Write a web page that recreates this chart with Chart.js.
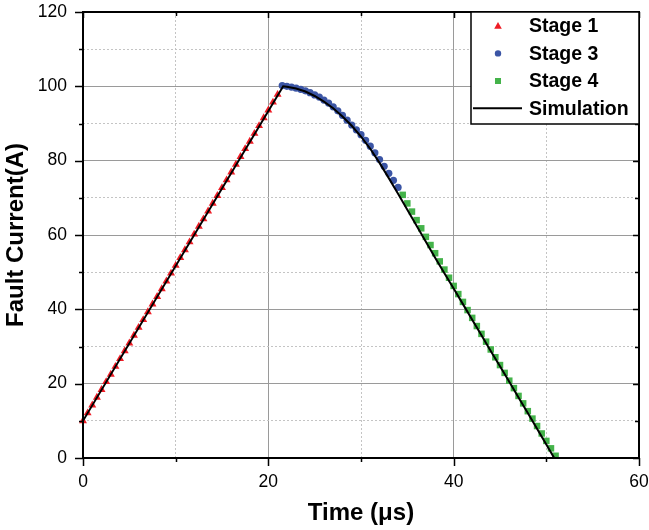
<!DOCTYPE html>
<html>
<head>
<meta charset="utf-8">
<script src="https://cdn.jsdelivr.net/npm/chart.js@4.4.0/dist/chart.umd.min.js"></script>
<style>
  html, body { margin: 0; padding: 0; background: #fff; }
  #wrap { width: 649px; height: 530px; }
</style>
</head>
<body>
<div id="wrap"><canvas id="faultChart" width="649" height="530"></canvas></div>
<script>
// values (time in us, current in A)
const stage1Time = [0, 0.5, 1, 1.5, 2, 2.5, 3, 3.5, 4, 4.5, 5, 5.5, 6, 6.5, 7, 7.5, 8, 8.5, 9, 9.5,
  10, 10.5, 11, 11.5, 12, 12.5, 13, 13.5, 14, 14.5, 15, 15.5, 16, 16.5, 17, 17.5, 18, 18.5, 19, 19.5,
  20, 20.5, 21];
const stage1Current = [10.0, 12.1, 14.2, 16.3, 18.4, 20.5, 22.5, 24.6, 26.7, 28.8, 30.9, 33.0, 35.1, 37.2,
  39.3, 41.4, 43.4, 45.5, 47.6, 49.7, 51.8, 53.9, 56.0, 58.1, 60.2, 62.3, 64.3, 66.4, 68.5, 70.6, 72.7,
  74.8, 76.9, 79.0, 81.1, 83.2, 85.2, 87.3, 89.4, 91.5, 93.6, 95.7, 97.8];

const stage3Time = [21.5, 22, 22.5, 23, 23.5, 24, 24.5, 25, 25.5, 26, 26.5, 27, 27.5, 28, 28.5, 29,
  29.5, 30, 30.5, 31, 31.5, 32, 32.5, 33, 33.5, 34];
const stage3Current = [100.2, 100.0, 99.8, 99.5, 99.2, 98.8, 98.3, 97.7, 97.1, 96.3, 95.5, 94.5, 93.4,
  92.2, 90.9, 89.6, 88.3, 87.0, 85.5, 83.9, 82.1, 80.3, 78.5, 76.6, 74.7, 72.8];

const stage4Time = [34.5, 35, 35.5, 36, 36.5, 37, 37.5, 38, 38.5, 39, 39.5, 40, 40.5, 41, 41.5, 42,
  42.5, 43, 43.5, 44, 44.5, 45, 45.5, 46, 46.5, 47, 47.5, 48, 48.5, 49, 49.5, 50, 50.5, 51];
const stage4Current = [70.8, 68.5, 66.3, 64.0, 61.8, 59.5, 57.3, 55.1, 52.9, 50.7, 48.5, 46.3, 44.1,
  42.0, 39.8, 37.7, 35.5, 33.4, 31.3, 29.2, 27.1, 25.0, 22.9, 20.8, 18.8, 16.7, 14.7, 12.6, 10.6, 8.6,
  6.6, 4.6, 2.6, 0.6];

const simTime = [0, 21.6, 22, 23, 24, 25, 26, 27, 28, 29, 30, 31, 32, 33, 34, 35, 36, 37, 38, 39, 40,
  41, 42, 43, 44, 45, 46, 47, 48, 49, 50, 50.85, 60];
const simCurrent = [10, 100, 99.9, 99.4, 98.6, 97.4, 95.9, 94.1, 91.9, 89.4, 86.5, 83.2, 79.4, 75.3,
  71.1, 66.8, 62.5, 58.2, 53.9, 49.7, 45.6, 41.4, 37.2, 33.0, 28.8, 24.7, 20.5, 16.3, 12.1, 7.9, 3.6, 0, 0];

const xTicks = [0, 20, 40, 60];
const yTicks = [0, 20, 40, 60, 80, 100, 120];

const FONT = '"Liberation Sans", Arial, Helvetica, sans-serif';

function pts(xs, ys) {
  return xs.map((x, i) => ({ x: x, y: ys[i] }));
}

const isMajorX = v => xTicks.includes(v);
const isMajorY = v => yTicks.includes(v);

// frame, tick marks and the boxed legend inside the plot
const frameLegend = {
  id: 'frameLegend',
  afterDraw(chart) {
    const { ctx, chartArea: a, scales } = chart;
    const x = scales.x, y = scales.y;
    ctx.save();
    ctx.strokeStyle = '#000';
    ctx.lineWidth = 1.5;
    ctx.beginPath();
    x.ticks.forEach(t => {
      const px = Math.round(x.getPixelForValue(t.value)) + 0.5;
      const major = isMajorX(t.value);
      ctx.moveTo(px, a.bottom); ctx.lineTo(px, a.bottom + (major ? 8 : 4));
      ctx.moveTo(px, a.top); ctx.lineTo(px, a.top + (major ? 6 : 4));
    });
    y.ticks.forEach(t => {
      const py = Math.round(y.getPixelForValue(t.value)) + 0.5;
      const major = isMajorY(t.value);
      ctx.moveTo(a.left, py); ctx.lineTo(a.left - (major ? 8 : 4), py);
      ctx.moveTo(a.right, py); ctx.lineTo(a.right - (major ? 6 : 4), py);
    });
    ctx.stroke();

    ctx.lineWidth = 2;
    ctx.strokeRect(a.left, a.top, a.right - a.left, a.bottom - a.top);

    // legend
    const bw = 168, bh = 112;
    const bx = a.right - bw, by = a.top;
    ctx.fillStyle = '#fff';
    ctx.fillRect(bx, by, bw, bh);
    ctx.lineWidth = 1.5;
    ctx.strokeRect(bx, by, bw, bh);

    const rows = [14, 41.4, 69, 96.3];
    ctx.font = 'bold 19.5px ' + FONT;
    ctx.textBaseline = 'middle';
    ctx.textAlign = 'left';
    chart.data.datasets.forEach((ds, i) => {
      const cy = by + rows[i];
      const mx = bx + 27;
      if (ds.showLine) {
        ctx.strokeStyle = ds.borderColor;
        ctx.lineWidth = 2;
        ctx.beginPath();
        ctx.moveTo(bx + 2, cy); ctx.lineTo(bx + 51, cy);
        ctx.stroke();
      } else {
        ctx.fillStyle = ds.backgroundColor;
        ctx.beginPath();
        if (ds.pointStyle === 'triangle') {
          ctx.moveTo(mx, cy - 4); ctx.lineTo(mx + 3.8, cy + 2.8); ctx.lineTo(mx - 3.8, cy + 2.8);
          ctx.closePath();
        } else if (ds.pointStyle === 'rect') {
          ctx.rect(mx - 3, cy - 3, 6, 6);
        } else {
          ctx.arc(mx, cy, 3.2, 0, Math.PI * 2);
        }
        ctx.fill();
      }
      ctx.fillStyle = '#000';
      ctx.fillText(ds.label, bx + 58, cy + 1);
    });
    ctx.restore();
  }
};

const gridColor = c => (c.tick && (c.scale.axis === 'x' ? isMajorX(c.tick.value) : isMajorY(c.tick.value))) ? '#9a9a9a' : '#c4c4c4';
const gridDash = c => {
  if (!c.tick) return [];
  const major = c.scale.axis === 'x' ? isMajorX(c.tick.value) : isMajorY(c.tick.value);
  return major ? [] : [2, 2];
};

const ctxFault = document.getElementById('faultChart').getContext('2d');
const faultChart = new Chart(ctxFault, {
  type: 'scatter',
  data: {
    datasets: [
      {
        label: 'Stage 1',
        data: pts(stage1Time, stage1Current),
        pointStyle: 'triangle',
        pointRadius: 4.6,
        pointBorderWidth: 0,
        backgroundColor: '#ee1c25',
        borderColor: '#ee1c25',
        clip: false,
        order: 1
      },
      {
        label: 'Stage 3',
        data: pts(stage3Time, stage3Current),
        pointStyle: 'circle',
        pointRadius: 3.6,
        pointBorderWidth: 0,
        backgroundColor: '#3b55a5',
        borderColor: '#3b55a5',
        clip: false,
        order: 2
      },
      {
        label: 'Stage 4',
        data: pts(stage4Time, stage4Current),
        pointStyle: 'rect',
        pointRadius: 4.6,
        pointBorderWidth: 0,
        backgroundColor: '#44b34a',
        borderColor: '#44b34a',
        clip: false,
        order: 3
      },
      {
        label: 'Simulation',
        type: 'line',
        data: pts(simTime, simCurrent),
        showLine: true,
        borderColor: '#000',
        backgroundColor: '#000',
        borderWidth: 2,
        pointRadius: 0,
        tension: 0,
        fill: false,
        order: 0
      }
    ]
  },
  options: {
    responsive: false,
    animation: false,
    devicePixelRatio: 1,
    layout: { padding: { left: 0, top: 12, right: 10, bottom: 0 } },
    plugins: {
      legend: { display: false },
      tooltip: { enabled: false }
    },
    scales: {
      x: {
        type: 'linear',
        min: 0,
        max: 60,
        afterFit: s => {
          s.height = 72;
          s.paddingLeft = 0; s.paddingRight = 0;
        },
        ticks: {
          stepSize: 10,
          autoSkip: false,
          maxRotation: 0,
          padding: 14,
          color: '#000',
          font: { family: FONT, size: 17.5 },
          callback: v => xTicks.includes(v) ? v : ''
        },
        grid: { color: gridColor, lineWidth: 1, drawTicks: false },
        border: { display: false, dash: gridDash },
        title: {
          display: true,
          text: 'Time (μs)',
          color: '#000',
          font: { family: FONT, size: 24, weight: 'bold' },
          padding: { top: 0, bottom: 2 }
        }
      },
      y: {
        type: 'linear',
        min: 0,
        max: 120,
        afterFit: s => {
          s.width = 83;
          s.paddingTop = 0; s.paddingBottom = 0;
        },
        ticks: {
          stepSize: 10,
          autoSkip: false,
          padding: 16,
          color: '#000',
          font: { family: FONT, size: 17.5 },
          callback: v => yTicks.includes(v) ? v : ''
        },
        grid: { color: gridColor, lineWidth: 1, drawTicks: false },
        border: { display: false, dash: gridDash },
        title: {
          display: true,
          text: 'Fault Current(A)',
          color: '#000',
          font: { family: FONT, size: 24, weight: 'bold' },
          padding: { top: 2, bottom: 0 }
        }
      }
    }
  },
  plugins: [frameLegend]
});
</script>
</body>
</html>
